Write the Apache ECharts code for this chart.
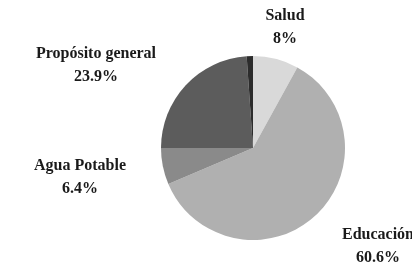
<!DOCTYPE html>
<html>
<head>
<meta charset="utf-8">
<script src="https://cdn.jsdelivr.net/npm/echarts@6/dist/echarts.min.js"></script>
<style>
  html, body { margin: 0; padding: 0; background: #fff; }
  #chart { width: 412px; height: 263px; }
</style>
</head>
<body>
<div id="chart"></div>
<script>
// sectores, en el orden del dibujo (desde las 12, sentido horario)
const categories = ['Salud', 'Educación', 'Agua Potable', 'Propósito general', 'Otros'];
const shares = [8, 60.6, 6.4, 23.9, 1.1];
const labelText = ['8%', '60.6%', '6.4%', '23.9%', ''];
const colors = ['#d9d9d9', '#b0b0b0', '#8a8a8a', '#5c5c5c', '#2c2c2c'];

// where each label sits on the page
const labelPos = [
  [285, 27],
  [378, 246],
  [80, 177],
  [96, 65],
  null
];

const chart = echarts.init(document.getElementById('chart'), null, { renderer: 'canvas' });

const option = {
  animation: false,
  backgroundColor: '#fff',
  series: [
    {
      type: 'pie',
      center: [253, 148],
      radius: 92,
      startAngle: 90,
      clockwise: true,
      avoidLabelOverlap: false,
      data: categories.map(function (name, i) {
        return {
          name: name,
          value: shares[i],
          itemStyle: { color: colors[i] },
          label: { show: labelText[i] !== '' }
        };
      }),
      itemStyle: { borderWidth: 0 },
      emphasis: { disabled: true },
      labelLine: { show: false },
      label: {
        position: 'outside',
        formatter: function (p) {
          return p.name + '\n' + labelText[p.dataIndex];
        },
        fontFamily: "'Liberation Serif', serif",
        fontWeight: 'bold',
        fontSize: 16,
        lineHeight: 23,
        color: '#1a1a1a',
        align: 'center'
      },
      labelLayout: function (params) {
        const pos = labelPos[params.dataIndex];
        if (!pos) return {};
        return { x: pos[0], y: pos[1], align: 'center', verticalAlign: 'middle' };
      }
    }
  ]
};

chart.setOption(option);
</script>
</body>
</html>
